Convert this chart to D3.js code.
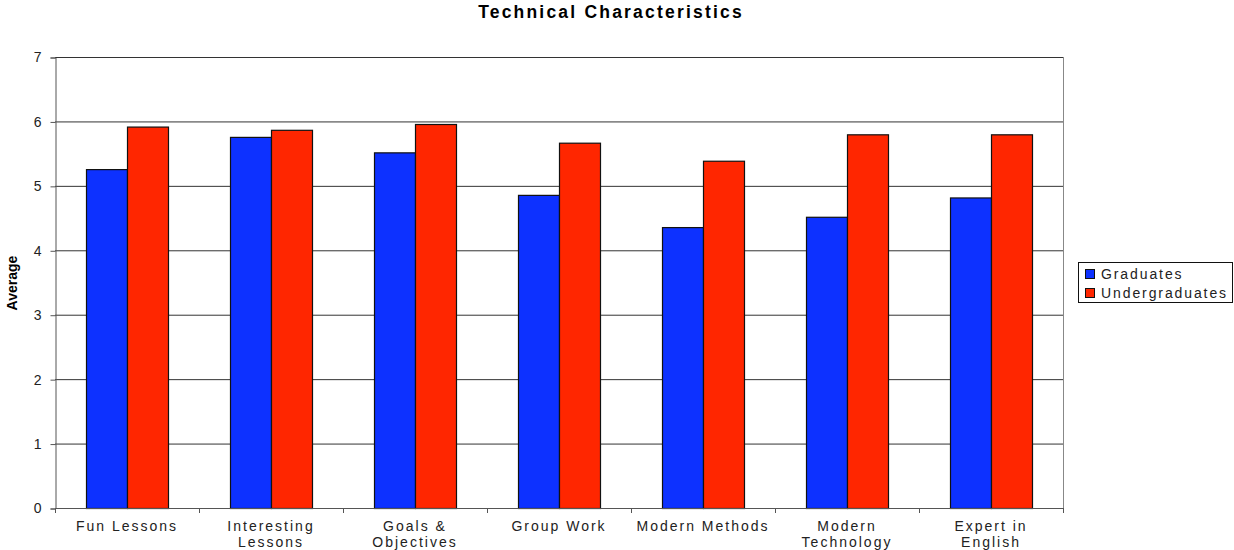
<html>
<head>
<script src='https://d3js.org/d3.v7.min.js'></script>
<style>
    body { margin: 0; background: white; }
    text { font-family: Arial, "Liberation Sans", sans-serif; }
</style>
</head>
<body>
<svg width=1234 height=550></svg>
<script>
// data
var categories = [["Fun Lessons"], ["Interesting", "Lessons"], ["Goals &", "Objectives"], ["Group Work"],
                  ["Modern Methods"], ["Modern", "Technology"], ["Expert in", "English"]];
var graduates = [5.26, 5.76, 5.52, 4.86, 4.36, 4.52, 4.82];
var undergraduates = [5.92, 5.87, 5.96, 5.67, 5.39, 5.80, 5.80];
var seriesNames = ["Graduates", "Undergraduates"];
var yTicks = [0, 1, 2, 3, 4, 5, 6, 7];

var colors = ["#0d31ff", "#ff2600"];
var mLeft = 55, mRight = 1063, mTop = 57, mBottom = 508;

var svg = d3.select("svg");

var x = d3.scaleBand().domain(d3.range(categories.length)).range([mLeft, mRight]);
var x1 = d3.scaleBand().domain([0, 1]).range([0, 82]);
var y = d3.scaleLinear().domain([0, 7]).range([mBottom, mTop]);

// gridlines
svg.append("g").selectAll("line")
    .data(yTicks.slice(1))
    .enter().append("line")
    .attr("x1", mLeft).attr("x2", mRight)
    .attr("y1", function(d) { return y(d) + 0.5; })
    .attr("y2", function(d) { return y(d) + 0.5; })
    .attr("stroke", "#333").attr("stroke-width", 1);

// right border
svg.append("line")
    .attr("x1", mRight + 0.5).attr("x2", mRight + 0.5)
    .attr("y1", mTop).attr("y2", mBottom)
    .attr("stroke", "#888");

// bars
var data = [graduates, undergraduates];
var groups = svg.append("g").selectAll("g")
    .data(data)
    .enter().append("g")
    .attr("fill", function(d, i) { return colors[i]; });

groups.selectAll("rect")
    .data(function(d, i) { return d.map(function(v, j) { return {v: v, s: i, c: j}; }); })
    .enter().append("rect")
    .attr("x", function(d) { return x(d.c) + (x.bandwidth() - 82) / 2 + x1(d.s) + 0.5; })
    .attr("width", x1.bandwidth())
    .attr("y", function(d) { return y(d.v) + 0.5; })
    .attr("height", function(d) { return y(0) - y(d.v); })
    .attr("stroke", "#111").attr("stroke-width", 1.2);

// y axis
var yAxis = svg.append("g")
    .attr("transform", "translate(" + (mLeft + 0.5) + ",0.5)")
    .call(d3.axisLeft(y).tickValues(yTicks).tickFormat(d3.format("d")).tickSize(5).tickPadding(9));
yAxis.select(".domain").attr("stroke", "#555");
yAxis.selectAll(".tick line").attr("stroke", "#555");
yAxis.selectAll("text").attr("font-size", 14).attr("fill", "#222");

// x axis with ticks at category boundaries
svg.append("line")
    .attr("x1", mLeft).attr("x2", mRight + 1)
    .attr("y1", mBottom + 0.5).attr("y2", mBottom + 0.5)
    .attr("stroke", "#555");
svg.append("g").selectAll("line")
    .data(d3.range(categories.length + 1))
    .enter().append("line")
    .attr("x1", function(d) { return mLeft + d * x.step() + 0.5; })
    .attr("x2", function(d) { return mLeft + d * x.step() + 0.5; })
    .attr("y1", mBottom).attr("y2", mBottom + 5)
    .attr("stroke", "#555");

var labels = svg.append("g").selectAll("text")
    .data(categories)
    .enter().append("text")
    .attr("text-anchor", "middle")
    .attr("font-size", 14)
    .attr("letter-spacing", "2px")
    .attr("fill", "#222")
    .attr("transform", function(d, i) { return "translate(" + (x(i) + x.bandwidth() / 2) + ",531)"; });
labels.selectAll("tspan")
    .data(function(d) { return d; })
    .enter().append("tspan")
    .attr("x", 0)
    .attr("dy", function(d, i) { return i == 0 ? 0 : 16; })
    .text(function(d) { return d; });

// title
svg.append("text")
    .attr("x", 611).attr("y", 18)
    .attr("text-anchor", "middle")
    .attr("font-size", 17.5).attr("font-weight", "bold")
    .attr("letter-spacing", "2.2px")
    .text("Technical Characteristics");

// y label
svg.append("text")
    .attr("transform", "translate(17,283) rotate(-90)")
    .attr("text-anchor", "middle")
    .attr("font-size", 14).attr("font-weight", "bold")
    .style("font-family", "'Liberation Sans Narrow', Arial, sans-serif")
    .text("Average");

// legend
var lg = svg.append("g").attr("transform", "translate(1078,262)");
lg.append("rect").attr("x", 0.5).attr("y", 0.5).attr("width", 154).attr("height", 40)
    .attr("fill", "white").attr("stroke", "#111");
var items = lg.selectAll("g.item")
    .data(seriesNames)
    .enter().append("g")
    .attr("transform", function(d, i) { return "translate(7," + (7 + i * 19) + ")"; });
items.append("rect")
    .attr("width", 9).attr("height", 9).attr("y", 0.5).attr("x", 0.5)
    .attr("fill", function(d, i) { return colors[i]; })
    .attr("stroke", "#111");
items.append("text")
    .attr("x", 16).attr("y", 10)
    .attr("font-size", 14).attr("letter-spacing", "1.9px")
    .attr("fill", "#222")
    .text(function(d) { return d; });
</script>
</body>
</html>
